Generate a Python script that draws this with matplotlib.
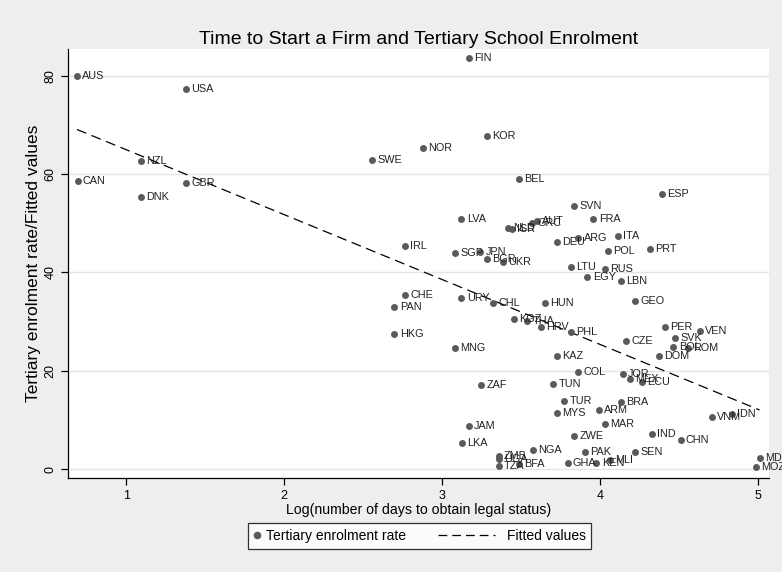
import matplotlib
matplotlib.use("Agg")
import matplotlib.pyplot as plt
from matplotlib.lines import Line2D
from matplotlib.legend_handler import HandlerLine2D
import numpy as np

plt.rcParams['font.family'] = ['Liberation Sans', 'DejaVu Sans']

countries = ["AUS","USA","NZL","SWE","CAN","GBR","DNK","IRL","FIN","KOR","NOR","BEL","ESP","SVN",
             "LVA","FRA","GRC","AUT","NLD","ISR","ITA","ARG","DEU","POL","PRT","SGP","JPN","BGR",
             "UKR","LTU","RUS","EGY","LBN","CHE","PAN","HKG","URY","CHL","HUN","GEO","KGZ","THA",
             "HRV","PHL","PER","VEN","SVK","CZE","BOL","ROM","DOM","MNG","KAZ","COL","JOR","MEX",
             "ECU","ZAF","TUN","TUR","BRA","MYS","ARM","MAR","VNM","IDN","JAM","ZWE","IND","CHN",
             "LKA","NGA","PAK","SEN","ZMB","UGA","TZA","BFA","GHA","KEN","MLI","MDG","MOZ"]
log_days = [0.687,1.377,1.092,2.557,0.690,1.377,1.092,2.764,3.169,3.285,2.878,3.488,4.396,3.838,
            3.123,3.959,3.571,3.601,3.420,3.441,4.115,3.863,3.726,4.052,4.318,3.082,3.243,3.287,
            3.386,3.819,4.030,3.921,4.134,2.764,2.698,2.698,3.123,3.323,3.652,4.225,3.456,3.541,
            3.625,3.819,4.410,4.632,4.478,4.165,4.466,4.560,4.372,3.082,3.728,3.861,4.147,4.193,
            4.267,3.249,3.704,3.773,4.134,3.728,3.994,4.032,4.708,4.837,3.171,3.838,4.330,4.512,
            3.125,3.576,3.904,4.225,3.359,3.359,3.359,3.486,3.796,3.978,4.066,5.012,4.990]
enrolment = [80.0,77.2,62.7,62.9,58.5,58.2,55.3,45.3,83.5,67.8,65.3,58.9,55.9,53.5,
             50.9,50.9,50.1,50.5,49.1,48.9,47.4,47.0,46.1,44.3,44.8,44.0,44.2,42.7,
             42.1,41.2,40.7,39.0,38.2,35.4,33.0,27.4,34.8,33.7,33.7,34.2,30.5,30.2,
             29.0,27.8,28.9,28.2,26.7,26.1,24.9,24.6,23.1,24.7,23.0,19.7,19.4,18.4,
             17.7,17.2,17.3,13.9,13.6,11.4,12.0,9.3,10.7,11.2,8.9,6.7,7.1,6.0,
             5.3,4.0,3.6,3.6,2.8,2.1,0.6,1.1,1.3,1.3,1.9,2.2,0.5]

title = "Time to Start a Firm and Tertiary School Enrolment"
xlabel = "Log(number of days to obtain legal status)"
ylabel = "Tertiary enrolment rate/Fitted values"
legend_labels = ["Tertiary enrolment rate", "Fitted values"]
xticks = [1, 2, 3, 4, 5]
yticks = [0, 20, 40, 60, 80]

x = np.array(log_days)
y = np.array(enrolment)
slope, intercept = np.polyfit(x, y, 1)
xs = np.array([x.min(), x.max()])
fitted = intercept + slope * xs

bg = "#eeeeee"
dot = "#5a5a5a"
fig = plt.figure(figsize=(7.82, 5.72), dpi=100, facecolor=bg)
ax = fig.add_axes([0.087, 0.1643, 0.896, 0.75])
ax.set_facecolor("white")

ax.set_xlim(0.63, 5.07)
ax.set_ylim(-1.77, 85.4)
for yt in yticks:
    ax.axhline(yt, color="#e4e4e4", lw=1.0, zorder=0)

ax.scatter(x, y, s=25, color=dot, zorder=3, linewidths=0)
for c, xi, yi in zip(countries, x, y):
    ax.annotate(c, (xi, yi), xytext=(3.8, 0), textcoords="offset points",
                fontsize=7.8, va="center", ha="left", color="#222222", zorder=4,
                annotation_clip=False)

ax.plot(xs, fitted, color="black", lw=0.9, ls=(0, (8, 4.5)), zorder=2)

for s in ["top", "right"]:
    ax.spines[s].set_visible(False)
for s in ["left", "bottom"]:
    ax.spines[s].set_color("black")
    ax.spines[s].set_linewidth(0.9)

ax.set_xticks(xticks)
ax.set_yticks(yticks)
ax.tick_params(axis="both", direction="out", length=5, width=0.9, labelsize=9, colors="black")
for lab in ax.get_yticklabels():
    lab.set_rotation(90)
    lab.set_va("center")

ax.set_title(title, fontsize=14, pad=3.5)
ax.set_xlabel(xlabel, fontsize=10.2, labelpad=1)
ax.set_ylabel(ylabel, fontsize=12.5, labelpad=2)


class LongDashHandler(HandlerLine2D):
    def create_artists(self, legend, orig_handle, xdescent, ydescent, width, height, fontsize, trans):
        yc = height / 2.0 - ydescent
        ln = Line2D([-xdescent - 40, -xdescent + width - 4], [yc, yc], color="black",
                    lw=0.9, ls=(0, (7, 4)))
        ln.set_transform(trans)
        return [ln]


handles = [Line2D([], [], marker="o", ls="none", color=dot, markersize=4.5),
           Line2D([], [], color="black", lw=0.9)]
leg = fig.legend(handles, legend_labels, loc="center",
                 bbox_to_anchor=(419.5 / 782, 1 - 536 / 572), bbox_transform=fig.transFigure,
                 ncol=2, frameon=True, fancybox=False, edgecolor="black", fontsize=10,
                 handlelength=0.5, handletextpad=0.42, columnspacing=6.3, borderpad=0.4,
                 handler_map={handles[1]: LongDashHandler()})
leg.get_frame().set_linewidth(0.9)
leg.get_frame().set_facecolor("white")

fig.savefig("out.png", dpi=100, facecolor=bg)
